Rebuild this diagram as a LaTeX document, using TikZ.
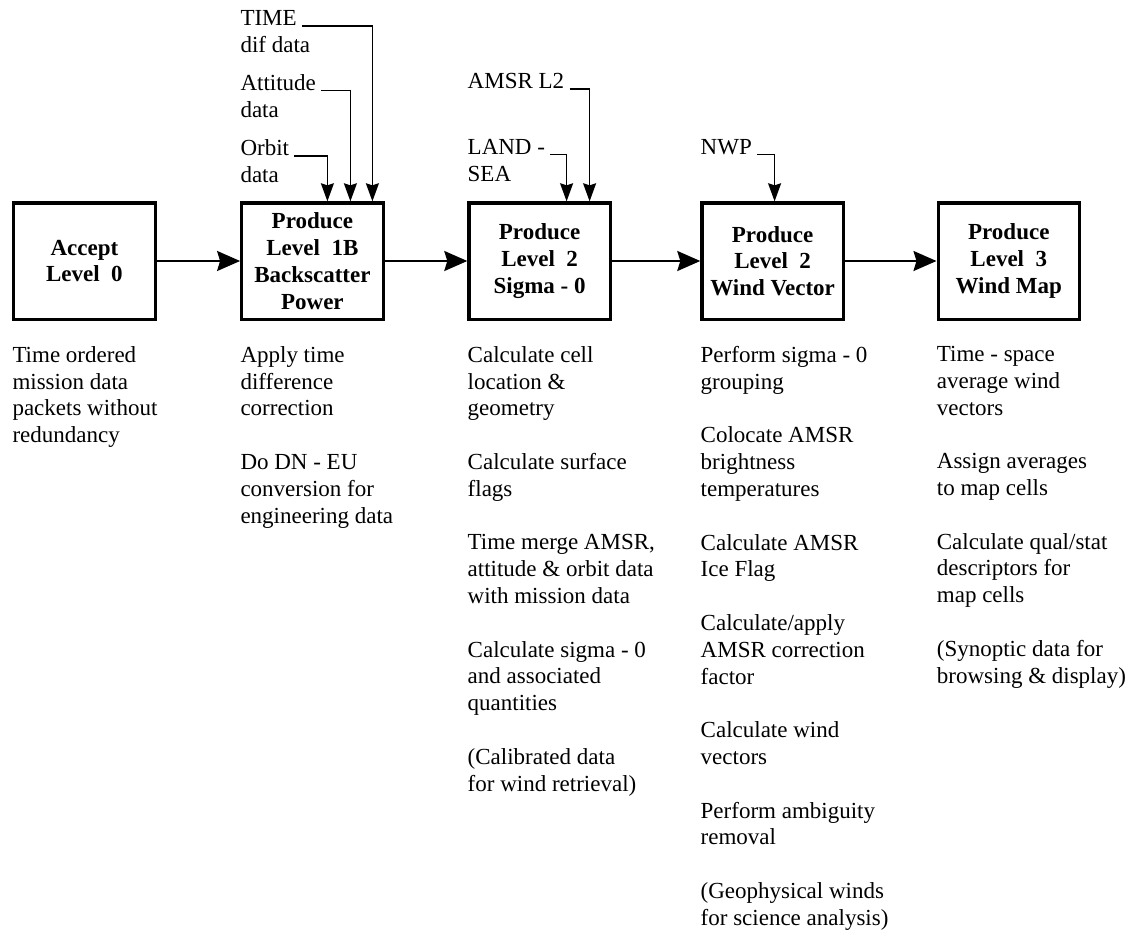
\documentclass[tikz,border=0pt]{standalone}
\usepackage{fontspec}
\setmainfont{Liberation Serif}
\usetikzlibrary{arrows.meta, positioning, calc}

\begin{document}
\begin{tikzpicture}[->, >={Stealth[length=11.5pt, width=10pt, inset=1.5pt]}, every node/.style={inner sep=0pt, font=\fontsize{11.5pt}{13.4pt}\selectfont}, stage/.style={draw, line width=1.6pt, minimum width=70.7pt, minimum height=58.1pt, align=center, font=\fontsize{11.5pt}{13.4pt}\selectfont\bfseries}, note/.style={align=left}, src/.style={anchor=base west}, post/.style={->, line width=1pt}, feed/.style={->, >={Stealth[length=9pt, width=6.5pt, inset=1pt]}, line width=0.7pt, shorten <=2.5pt}]

			\useasboundingbox (0,0) rectangle (566pt,-466pt);

			\node [stage] (L0) at (42.2pt,-130.5pt)
				{Accept\\Level\ \ 0};

			\node [stage] (L1B)
				[right=41.7pt of L0]
				{Produce\\Level\ \ 1B\\Backscatter\\Power};

			\node [stage] (L2S)
				[right=41.3pt of L1B]
				{Produce\\Level\ \ 2\\Sigma - 0};

			\node [stage] (L2W)
				[right=44.2pt of L2S]
				{Produce\\Level\ \ 2\\Wind Vector};

			\node [stage] (L3)
				[right=45.8pt of L2W]
				{Produce\\Level\ \ 3\\Wind Map};

			\node [note] (N0)
				[below=12.6pt of L0.south west, anchor=north west]
				{Time ordered\\mission data\\packets without\\redundancy};

			\node [note] (N1B)
				[below=12.6pt of L1B.south west, anchor=north west]
				{Apply time\\difference\\correction\\[13.4pt]Do DN - EU\\conversion for\\engineering data};

			\node [note] (N2S)
				[below=12.6pt of L2S.south west, anchor=north west]
				{Calculate cell\\location \&\\geometry\\[13.4pt]Calculate surface\\flags\\[13.4pt]Time merge AMSR,\\attitude \& orbit data\\with mission data\\[13.4pt]Calculate sigma - 0\\and associated\\quantities\\[13.4pt](Calibrated data\\for wind retrieval)};

			\node [note] (N2W)
				[below=12.6pt of L2W.south west, anchor=north west]
				{Perform sigma - 0\\grouping\\[13.4pt]Colocate AMSR\\brightness\\temperatures\\[13.4pt]Calculate AMSR\\Ice Flag\\[13.4pt]Calculate/apply\\AMSR correction\\factor\\[13.4pt]Calculate wind\\vectors\\[13.4pt]Perform ambiguity\\removal\\[13.4pt](Geophysical winds\\for science analysis)};

			\node [note] (N3)
				[below=12.6pt of L3.south west, anchor=north west]
				{Time - space\\average wind\\vectors\\[13.4pt]Assign averages\\to map cells\\[13.4pt]Calculate qual/stat\\descriptors for\\map cells\\[13.4pt](Synoptic data for\\browsing \& display)};

			\node [src] (time) [above=87.7pt of L1B.north west, anchor=base west] {TIME};
			\node [src] (timeb) [below=13.4pt of time.base west, anchor=base west] {dif data};
			\node [src] (att) [above=55.3pt of L1B.north west, anchor=base west] {Attitude};
			\node [src] (attb) [below=13.4pt of att.base west, anchor=base west] {data};
			\node [src] (orbit) [above=22.7pt of L1B.north west, anchor=base west] {Orbit};
			\node [src] (orbitb) [below=13.4pt of orbit.base west, anchor=base west] {data};

			\node [src] (amsr) [above=56.2pt of L2S.north west, anchor=base west] {AMSR L2};
			\node [src] (land) [above=23.5pt of L2S.north west, anchor=base west] {LAND -};
			\node [src] (landb) [below=13.4pt of land.base west, anchor=base west] {SEA};

			\node [src] (nwp) [above=23.5pt of L2W.north west, anchor=base west] {NWP};

			\draw[post] (L0) -- (L1B);
			\draw[post] (L1B) -- (L2S);
			\draw[post] (L2S) -- (L2W);
			\draw[post] (L2W) -- (L3);

			\draw[feed] (orbit.base east) -| ([xshift=7.5pt]L1B.north);
			\draw[feed] (att.base east) -| ([xshift=19pt]L1B.north);
			\draw[feed] (time.base east) -| ([xshift=30pt]L1B.north);
			\draw[feed] (land.base east) -| ([xshift=13.5pt]L2S.north);
			\draw[feed] (amsr.base east) -| ([xshift=25pt]L2S.north);
			\draw[feed] (nwp.base east) -| ([xshift=1pt]L2W.north);

		\end{tikzpicture}
\end{document}
